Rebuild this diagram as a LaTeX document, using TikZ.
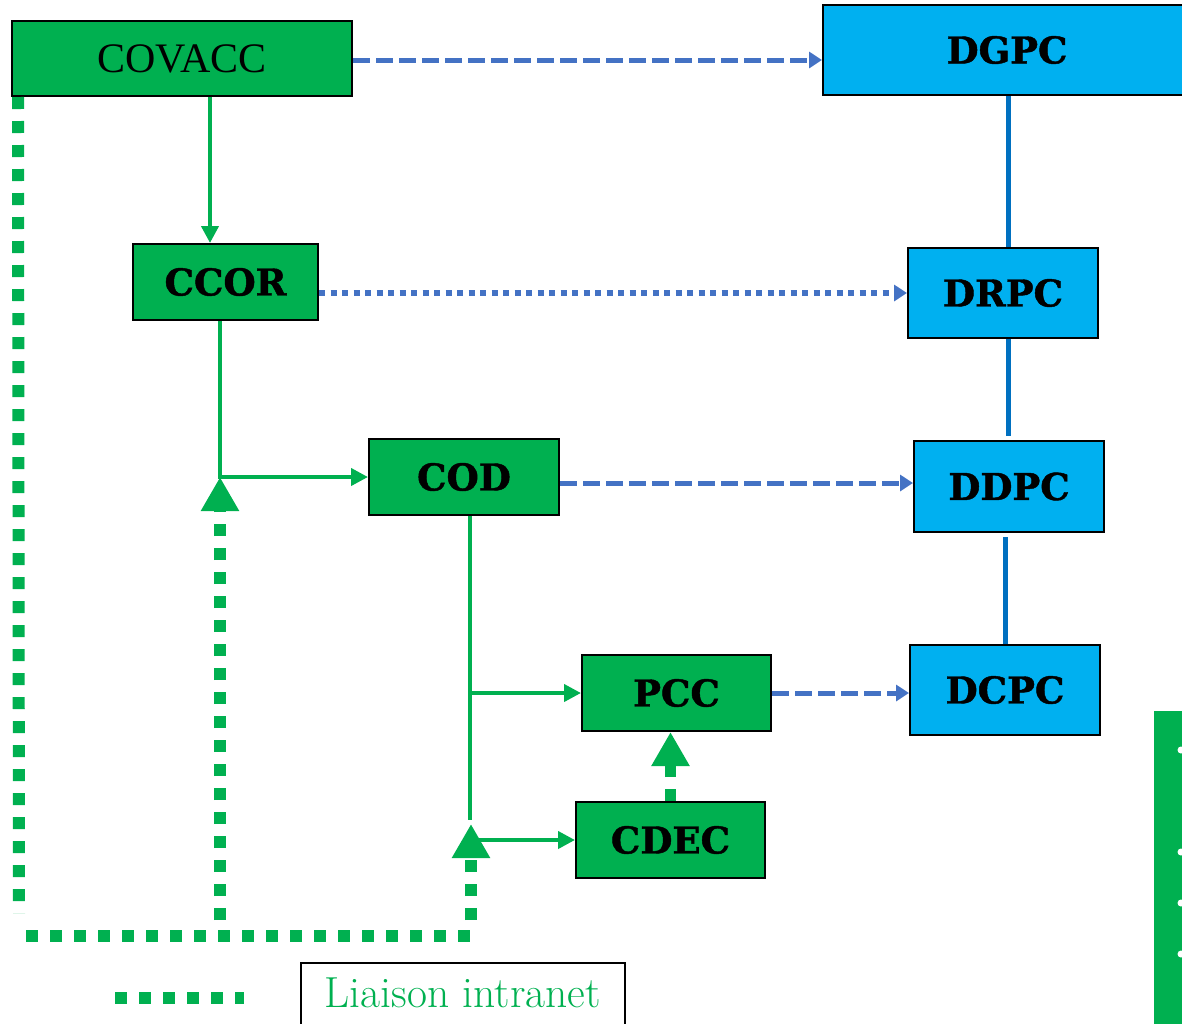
\documentclass[tikz,border=0pt]{standalone}
\usepackage{fontspec}
\usepackage{tikz}
\usetikzlibrary{arrows.meta, positioning}

\newfontfamily\slabfont{DejaVu Serif}[BoldFeatures={FakeBold=1.2}]
\newfontfamily\timesfont{Liberation Serif}

\definecolor{orggreen}{HTML}{00B050}
\definecolor{orgblue}{HTML}{00B0F0}
\definecolor{linkblue}{HTML}{4472C4}
\definecolor{chainblue}{HTML}{0070C0}

\tikzset{
  greenbox/.style={draw=black, line width=2pt, fill=orggreen, inner sep=0pt,
    minimum width=189pt, minimum height=76pt,
    font=\slabfont\bfseries\fontsize{37}{40}\selectfont},
  bluebox/.style={greenbox, fill=orgblue, minimum width=190pt, minimum height=90pt},
  solidlink/.style={orggreen, line width=4pt, -{Triangle[width=17pt,length=17pt]}},
  bluedash/.style={linkblue, line width=5pt, dash pattern=on 17pt off 6pt,
    -{Triangle[width=16pt,length=13pt]}},
  bluedot/.style={linkblue, line width=5.5pt, dash pattern=on 6pt off 5.5pt,
    -{Triangle[width=16pt,length=13pt]}},
  chain/.style={chainblue, line width=5pt},
  intranet/.style={orggreen, line width=12pt, dash pattern=on 12pt off 12pt},
  intraup/.style={intranet, -{Triangle[width=36pt,length=34pt]}},
  legendbox/.style={draw=black, line width=1.5pt, text=orggreen, inner xsep=0pt,
    inner ysep=15pt, text depth=20pt, minimum width=324pt,
    font=\fontsize{43.5}{46}\selectfont}
}

\begin{document}
\begin{tikzpicture}[x=1pt,y=-1pt]
\useasboundingbox (0,0) rectangle (1182,1023);
\clip (0,0) rectangle (1182,1023);

% green side
\node[greenbox, minimum width=340pt, minimum height=75pt,
  font=\timesfont\fontsize{42}{44}\selectfont] (covacc) at (182,58.5) {COVACC};
\node[greenbox, minimum width=185pt] (ccor) at (225.5,282) {CCOR};
\node[greenbox, minimum width=190pt] (cod) at (464,477) {COD};
\node[greenbox] (pcc) at (676.5,693) {PCC};
\node[greenbox] (cdec) at (670.5,840) {CDEC};

% blue side
\node[bluebox, minimum width=368pt] (dgpc) at (1007,50) {DGPC};
\node[bluebox] (drpc) at (1003,293) {DRPC};
\node[bluebox, minimum height=91pt] (ddpc) at (1009,486.5) {DDPC};
\node[bluebox] (dcpc) at (1005,690) {DCPC};

% blue chain
\draw[chain] ([xshift=1pt]dgpc.south) -- ([xshift=5pt]drpc.north);
\draw[chain] ([xshift=5pt]drpc.south) -- ([xshift=-1pt,yshift=4pt]ddpc.north);
\draw[chain] ([xshift=-4pt,yshift=-4pt]ddpc.south) -- (dcpc.north);

% links to the right
\draw[bluedash] ([yshift=-1.5pt]covacc.east) -- ([yshift=-1.5pt]covacc.east -| dgpc.west);
\draw[bluedot] (ccor.east |- drpc.west) -- (drpc.west);
\draw[bluedash] (cod.east |- 0,483) -- (ddpc.west |- 0,483);
\draw[bluedash] (pcc.east) -- (pcc.east -| dcpc.west);

% hierarchy
\draw[solidlink] ([xshift=-15.5pt]ccor.north |- covacc.south) -- ([xshift=-15.5pt]ccor.north);
\draw[solidlink] ([xshift=-5.5pt]ccor.south) |- (cod.west);
\coordinate (codfoot) at (470,820);
\draw[orggreen, line width=4pt] (cod.south -| codfoot) -- (codfoot);
\draw[solidlink] (codfoot |- pcc.west) -- (pcc.west);
\draw[solidlink] ([xshift=5pt]codfoot |- cdec.west) -- (cdec.west);

% intranet
\draw[intraup, line width=11pt] (cdec.north) -- (cdec.north |- pcc.south);
\coordinate (leftfoot) at (19,913);
\coordinate (baseA) at (26,936);
\coordinate (baseB) at (477,936);
\coordinate (riseA) at (220,920);
\coordinate (riseB) at (471,920);
\draw[intranet] ([xshift=7pt]covacc.south west) -- (leftfoot);
\draw[intranet] (baseA) -- (baseB);
\draw[intraup] (riseA) -- (220,477);
\draw[intraup] (riseB) -- (471,824);

% legend
\coordinate (legA) at (115,998);
\coordinate (legB) at (244,998);
\draw[intranet] (legA) -- (legB);
\node[legendbox, anchor=north west] (legend) at (300,962) {Liaison intranet};

% side panel
\fill[orggreen] (1154,711) rectangle (1190,1030);
\foreach \y in {750,852,903,954}
  \fill[white] (1181,\y) circle (3.5pt);
\end{tikzpicture}
\end{document}
